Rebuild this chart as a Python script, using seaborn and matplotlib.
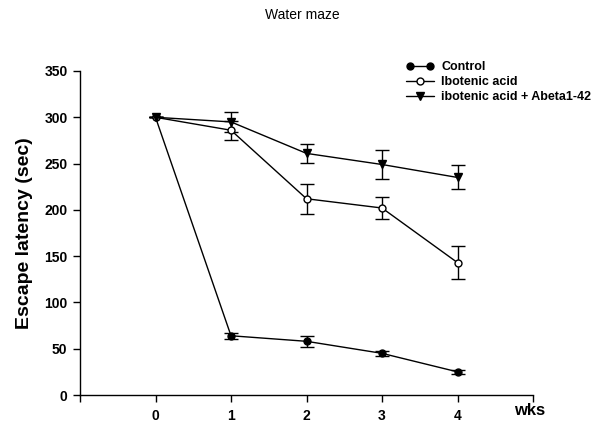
import matplotlib
matplotlib.use("Agg")
import matplotlib.pyplot as plt
from matplotlib.legend_handler import HandlerLine2D
import seaborn as sns
import pandas as pd
import numpy as np

weeks = [0, 1, 2, 3, 4]
control = [300, 64, 58, 45, 25]
control_err = [0, 3, 6, 3, 2]
ibotenic = [300, 286, 212, 202, 143]
ibotenic_err = [0, 10, 16, 12, 18]
abeta = [300, 295, 261, 249, 235]
abeta_err = [0, 11, 10, 16, 13]
series_names = ["Control", "Ibotenic acid", "ibotenic acid + Abeta1-42"]
x_tick_labels = ["0", "1", "2", "3", "4"]

sns.set_theme(style="white")
plt.rcParams['font.family'] = ['Liberation Sans', 'DejaVu Sans']
plt.rcParams['text.color'] = 'black'
plt.rcParams['axes.labelcolor'] = 'black'
plt.rcParams['xtick.color'] = 'black'
plt.rcParams['ytick.color'] = 'black'

df = pd.DataFrame({
    "wk": weeks * 3,
    "lat": control + ibotenic + abeta,
    "err": control_err + ibotenic_err + abeta_err,
    "grp": [series_names[0]] * 5 + [series_names[1]] * 5 + [series_names[2]] * 5,
})

fig = plt.figure(figsize=(6.05, 4.4), dpi=100)
ax = fig.add_axes([80/605, 1-395/440, (533-80)/605, (395-71)/440])

styles = {
    series_names[0]: dict(marker="o", mfc="black", ms=5),
    series_names[1]: dict(marker="o", mfc="white", ms=5),
    series_names[2]: dict(marker="v", mfc="black", ms=6),
}
for name in series_names:
    sub = df[df.grp == name]
    ax.errorbar(sub.wk, sub.lat, yerr=sub.err, fmt="none", ecolor="black",
                elinewidth=1, capsize=5, capthick=1, zorder=2)
    sns.lineplot(data=sub, x="wk", y="lat", ax=ax, color="black", lw=1,
                 marker=styles[name]["marker"], markersize=styles[name]["ms"],
                 markerfacecolor=styles[name]["mfc"], markeredgecolor="black",
                 markeredgewidth=1, label=name, zorder=3)

ax.set_xlim(-1, 5)
ax.set_ylim(0, 350)
ax.set_xticks([-1, 0, 1, 2, 3, 4, 5])
ax.set_xticklabels([""] + x_tick_labels + [""])
ax.set_yticks(range(0, 351, 50))
for lab in ax.get_xticklabels() + ax.get_yticklabels():
    lab.set_fontweight("bold")
    lab.set_fontsize(10)
    lab.set_color("black")
ax.tick_params(axis="both", direction="out", length=5, width=1, color="black",
               bottom=True, left=True)
ax.tick_params(axis="x", pad=5)
ax.tick_params(axis="y", pad=4)
for s in ["top", "right"]:
    ax.spines[s].set_visible(False)
for s in ["left", "bottom"]:
    ax.spines[s].set_color("black")
    ax.spines[s].set_linewidth(1)

ax.set_xlabel("")
ax.set_ylabel("Escape latency (sec)", fontsize=14, fontweight="bold", labelpad=8,
              color="black")
fig.text(530/605, 1-410/440, "wks", fontsize=12, fontweight="bold", ha="center",
         va="center", color="black")
fig.text(302/605, 1-15/440, "Water maze", fontsize=10, ha="center", va="center",
         color="black")

handles, labels = ax.get_legend_handles_labels()
ax.get_legend().remove()
leg = fig.legend(handles, labels, loc="upper left",
                 bbox_to_anchor=(395/605, 1-50/440), frameon=False,
                 prop={"size": 9, "weight": "bold"}, handlelength=2.2,
                 handletextpad=0.6, labelspacing=0.25,
                 handler_map={handles[0]: HandlerLine2D(numpoints=2)})
for t in leg.get_texts():
    t.set_color("black")

fig.savefig("out.png", dpi=100)
